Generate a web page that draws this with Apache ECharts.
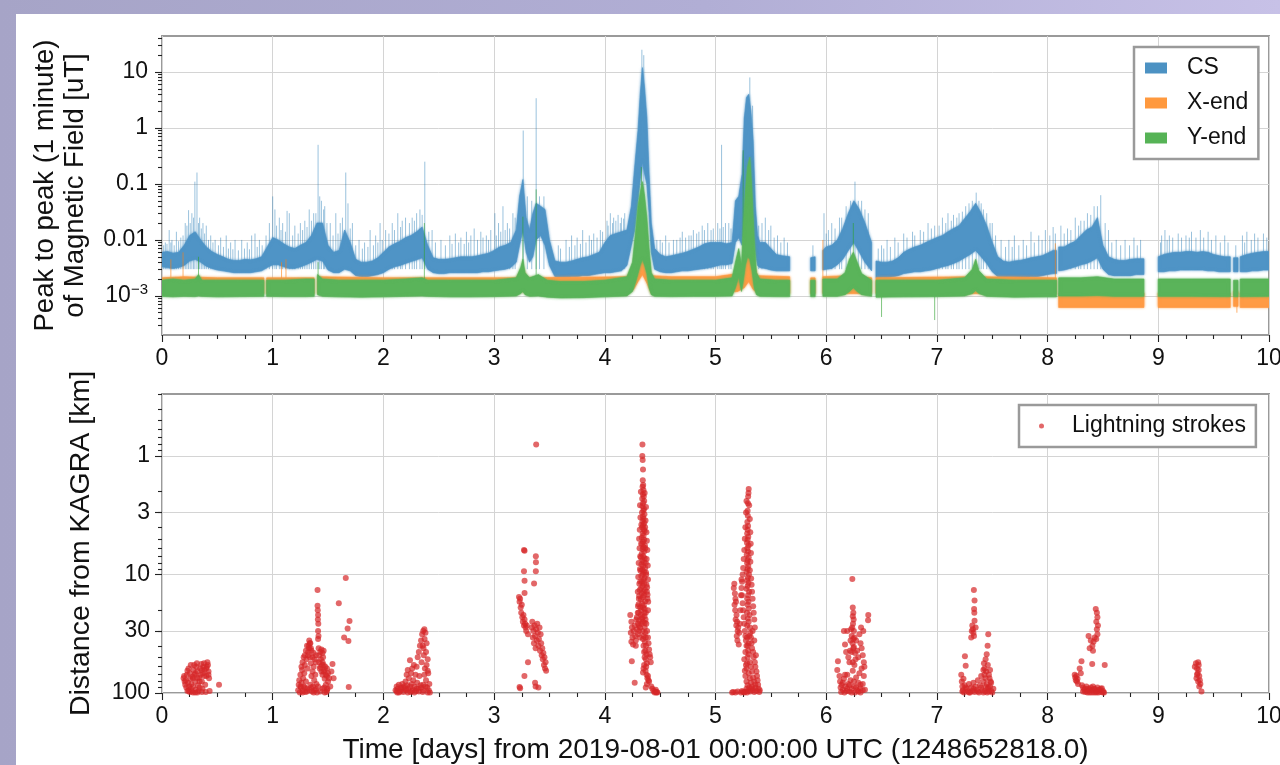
<!DOCTYPE html>
<html><head><meta charset="utf-8">
<script src="https://cdn.jsdelivr.net/npm/echarts@6/dist/echarts.min.js"></script>
<style>
html,body{margin:0;padding:0;width:1280px;height:765px;overflow:hidden;}
#bg{position:absolute;left:0;top:0;width:1280px;height:765px;background:linear-gradient(90deg,#a6a4c7 0%,#b1aed5 55%,#c7c1e7 100%);}
#card{position:absolute;left:16px;top:14px;width:1264px;height:751px;background:#fff;}
#chart{position:absolute;left:0;top:0;width:1280px;height:765px;}
</style></head><body>
<div id="bg"></div><div id="card"></div><div id="chart"></div>
<script>
// ---------------- DATA ----------------
const dayTicks = [0,1,2,3,4,5,6,7,8,9,10];
const fieldTickValues = [0.001, 0.01, 0.1, 1, 10];
const fieldTickLabels = ['{b|10}{sup|\u22123}', '0.01', '0.1', '1', '10'];
const distTickValues = [1, 3, 10, 30, 100];
const distTickLabels = ['1', '3', '10', '30', '100'];
const seriesNames = ['CS', 'X-end', 'Y-end'];

// CS band: [day, lower edge, upper edge] in uT; null = data gap
const csBand = [
[0.00,0.0033,0.0060],[0.05,0.0032,0.0062],[0.10,0.0031,0.0058],[0.15,0.0032,0.0060],[0.20,0.0035,0.0080],
[0.25,0.0042,0.0120],[0.30,0.0045,0.0140],[0.35,0.0040,0.0100],[0.40,0.0034,0.0075],[0.45,0.0031,0.0062],
[0.50,0.0029,0.0055],[0.55,0.0028,0.0050],[0.60,0.0027,0.0045],[0.65,0.0026,0.0043],[0.70,0.0026,0.0043],
[0.75,0.0026,0.0045],[0.80,0.0026,0.0044],[0.85,0.0027,0.0046],[0.90,0.0028,0.0050],[0.95,0.0032,0.0075],
[1.00,0.0036,0.0110],[1.05,0.0036,0.0100],[1.10,0.0033,0.0085],[1.15,0.0031,0.0075],[1.20,0.0031,0.0070],
[1.25,0.0033,0.0080],[1.30,0.0036,0.0090],[1.35,0.0040,0.0120],[1.40,0.0045,0.0200],[1.45,0.0042,0.0200],
[1.50,0.0029,0.0080],[1.55,0.0026,0.0060],[1.60,0.0026,0.0065],[1.65,0.0030,0.0150],[1.70,0.0028,0.0090],
[1.75,0.0023,0.0045],[1.80,0.0022,0.0040],[1.85,0.0022,0.0040],[1.90,0.0023,0.0042],[1.95,0.0024,0.0048],
[2.00,0.0026,0.0060],[2.05,0.0030,0.0075],[2.10,0.0033,0.0085],[2.15,0.0035,0.0095],[2.20,0.0038,0.0110],
[2.25,0.0041,0.0120],[2.30,0.0044,0.0140],[2.35,0.0048,0.0170],[2.40,0.0030,0.0080],[2.45,0.0026,0.0048],
[2.50,0.0025,0.0045],[2.55,0.0025,0.0045],[2.60,0.0026,0.0046],[2.65,0.0026,0.0048],[2.70,0.0026,0.0050],
[2.75,0.0026,0.0050],[2.80,0.0026,0.0050],[2.85,0.0026,0.0052],[2.90,0.0027,0.0055],[2.95,0.0027,0.0058],
[3.00,0.0028,0.0065],[3.05,0.0029,0.0075],[3.10,0.0030,0.0080],[3.15,0.0032,0.0090],[3.20,0.0040,0.0150],
[3.23,0.0080,0.0600],[3.26,0.0150,0.1200],[3.29,0.0060,0.0250],[3.32,0.0040,0.0150],[3.35,0.0050,0.0300],
[3.38,0.0100,0.0450],[3.42,0.0120,0.0400],[3.46,0.0080,0.0350],[3.50,0.0035,0.0100],[3.55,0.0022,0.0042],
[3.60,0.0021,0.0040],[3.65,0.0021,0.0040],[3.70,0.0022,0.0042],[3.75,0.0022,0.0045],[3.80,0.0023,0.0048],
[3.85,0.0023,0.0050],[3.90,0.0024,0.0055],[3.95,0.0025,0.0060],[4.00,0.0026,0.0090],[4.05,0.0026,0.0120],
[4.10,0.0027,0.0130],[4.15,0.0028,0.0140],[4.20,0.0035,0.0150],[4.24,0.0080,0.0400],[4.27,0.0150,0.2000],
[4.30,0.0500,0.9000],[4.32,0.1200,4.0000],[4.34,0.2500,12.000],[4.36,0.1500,5.0000],[4.38,0.1000,1.5000],
[4.40,0.0300,0.1500],[4.42,0.0060,0.0200],[4.45,0.0030,0.0070],[4.50,0.0027,0.0055],[4.55,0.0026,0.0050],
[4.60,0.0026,0.0052],[4.65,0.0027,0.0055],[4.70,0.0028,0.0058],[4.75,0.0028,0.0062],[4.80,0.0029,0.0068],
[4.85,0.0030,0.0075],[4.90,0.0031,0.0085],[4.95,0.0032,0.0090],[5.00,0.0034,0.0090],[5.05,0.0036,0.0090],
[5.10,0.0036,0.0085],[5.15,0.0038,0.0090],[5.18,0.0090,0.0500],[5.21,0.0110,0.0600],[5.24,0.0080,0.1500],
[5.26,0.0200,1.5000],[5.28,0.0400,3.5000],[5.30,0.0500,4.0000],[5.32,0.0300,2.0000],[5.34,0.0150,0.6000],
[5.36,0.0060,0.0400],[5.38,0.0035,0.0120],[5.40,0.0032,0.0090],[5.45,0.0031,0.0090],[5.50,0.0029,0.0070],
[5.55,0.0028,0.0055],[5.60,0.0028,0.0052],[5.67,0.0028,0.0050],
null,
[5.86,0.0028,0.0048],[5.90,0.0028,0.0050],
null,
[5.97,0.0029,0.0065],[6.00,0.0030,0.0075],[6.05,0.0031,0.0080],[6.10,0.0036,0.0100],[6.15,0.0045,0.0160],
[6.20,0.0065,0.0300],[6.25,0.0090,0.0500],[6.30,0.0060,0.0350],[6.35,0.0040,0.0200],[6.41,0.0028,0.0090],
null,
[6.45,0.0021,0.0042],[6.50,0.0021,0.0040],[6.55,0.0021,0.0040],[6.60,0.0022,0.0042],[6.65,0.0023,0.0048],
[6.70,0.0025,0.0060],[6.75,0.0026,0.0068],[6.80,0.0027,0.0075],[6.85,0.0027,0.0080],[6.90,0.0028,0.0090],
[6.95,0.0029,0.0100],[7.00,0.0031,0.0110],[7.05,0.0033,0.0120],[7.10,0.0035,0.0140],[7.15,0.0038,0.0160],
[7.20,0.0042,0.0180],[7.25,0.0048,0.0240],[7.30,0.0055,0.0320],[7.35,0.0065,0.0450],[7.40,0.0050,0.0300],
[7.45,0.0038,0.0180],[7.50,0.0027,0.0090],[7.55,0.0022,0.0050],[7.60,0.0021,0.0042],[7.65,0.0021,0.0040],
[7.70,0.0021,0.0042],[7.75,0.0021,0.0043],[7.80,0.0021,0.0045],[7.85,0.0022,0.0048],[7.90,0.0022,0.0050],
[7.95,0.0023,0.0052],[8.00,0.0024,0.0058],[8.05,0.0025,0.0065],[8.08,0.0025,0.0065],
null,
[8.10,0.0028,0.0075],[8.15,0.0029,0.0075],[8.20,0.0031,0.0085],[8.25,0.0033,0.0095],[8.30,0.0036,0.0120],
[8.35,0.0038,0.0150],[8.40,0.0042,0.0170],[8.45,0.0048,0.0250],[8.50,0.0030,0.0080],[8.55,0.0024,0.0050],
[8.60,0.0023,0.0045],[8.65,0.0023,0.0043],[8.70,0.0023,0.0043],[8.75,0.0023,0.0045],[8.80,0.0024,0.0046],
[8.87,0.0024,0.0046],
null,
[9.00,0.0027,0.0050],[9.05,0.0027,0.0055],[9.10,0.0028,0.0058],[9.15,0.0028,0.0060],[9.20,0.0029,0.0060],
[9.25,0.0029,0.0062],[9.30,0.0029,0.0062],[9.35,0.0029,0.0060],[9.40,0.0029,0.0062],[9.45,0.0028,0.0060],
[9.50,0.0028,0.0055],[9.55,0.0027,0.0052],[9.60,0.0027,0.0050],[9.65,0.0027,0.0050],
null,
[9.68,0.0027,0.0048],[9.72,0.0027,0.0048],
null,
[9.74,0.0027,0.0050],[9.80,0.0027,0.0055],[9.85,0.0028,0.0058],[9.90,0.0028,0.0060],[9.95,0.0029,0.0062],
[10.0,0.0029,0.0062]
];

// CS spikes above the dense band: [day, peak uT]
const csSpikes = [
[0.015,0.008],[0.03,0.009],[0.045,0.0085],[0.065,0.015],[0.08,0.009],[0.09,0.01],[0.11,0.008],[0.13,0.014],
[0.15,0.0095],[0.17,0.011],[0.19,0.012],[0.21,0.02],[0.225,0.018],[0.24,0.034],[0.255,0.02],[0.27,0.03],
[0.285,0.025],[0.297,0.11],[0.316,0.16],[0.33,0.02],[0.34,0.025],[0.355,0.016],[0.37,0.02],[0.385,0.013],
[0.40,0.018],[0.42,0.01],[0.44,0.012],[0.46,0.009],[0.48,0.01],[0.51,0.008],[0.53,0.011],[0.555,0.0075],
[0.58,0.012],[0.60,0.007],[0.62,0.009],[0.64,0.0068],[0.66,0.01],[0.69,0.0065],[0.72,0.01],[0.745,0.007],
[0.77,0.009],[0.79,0.0068],[0.81,0.012],[0.84,0.013],[0.86,0.0075],[0.88,0.01],[0.905,0.008],[0.94,0.012],
[0.97,0.02],[1.0,0.06],[1.02,0.035],[1.035,0.018],[1.06,0.025],[1.075,0.015],[1.09,0.02],[1.115,0.014],
[1.13,0.033],[1.15,0.03],[1.18,0.012],[1.2,0.018],[1.23,0.013],[1.25,0.02],[1.27,0.015],[1.29,0.022],
[1.31,0.017],[1.33,0.035],[1.35,0.022],[1.37,0.03],[1.39,0.03],[1.41,0.5],[1.425,0.06],[1.44,0.05],
[1.46,0.035],[1.47,0.04],[1.49,0.02],[1.52,0.02],[1.545,0.012],[1.57,0.03],[1.59,0.013],[1.61,0.02],
[1.63,0.025],[1.66,0.16],[1.68,0.045],[1.70,0.016],[1.72,0.02],[1.75,0.008],[1.78,0.01],[1.81,0.007],
[1.83,0.009],[1.86,0.0075],[1.88,0.015],[1.91,0.008],[1.93,0.012],[1.95,0.009],[1.97,0.02],[1.99,0.01],
[2.02,0.015],[2.05,0.013],[2.08,0.02],[2.10,0.015],[2.13,0.03],[2.155,0.017],[2.17,0.022],[2.2,0.025],
[2.235,0.02],[2.26,0.025],[2.28,0.022],[2.3,0.03],[2.33,0.035],[2.35,0.028],[2.374,0.25],[2.41,0.014],
[2.44,0.015],[2.47,0.009],[2.52,0.01],[2.56,0.008],[2.6,0.012],[2.62,0.0085],[2.65,0.013],[2.68,0.009],
[2.7,0.011],[2.73,0.0085],[2.75,0.014],[2.77,0.009],[2.79,0.012],[2.82,0.016],[2.85,0.01],[2.88,0.014],
[2.9,0.011],[2.93,0.012],[2.95,0.01],[2.97,0.015],[3.007,0.03],[3.02,0.012],[3.04,0.02],[3.06,0.014],
[3.08,0.04],[3.1,0.015],[3.12,0.02],[3.14,0.016],[3.17,0.03],[3.19,0.025],[3.263,0.9],[3.3,0.06],
[3.34,0.05],[3.38,3.4],[3.41,0.06],[3.45,0.06],[3.58,0.008],[3.6,0.007],[3.65,0.01],[3.68,0.0075],
[3.7,0.012],[3.73,0.008],[3.75,0.011],[3.78,0.0085],[3.8,0.015],[3.83,0.009],[3.86,0.012],[3.88,0.01],
[3.9,0.013],[3.93,0.011],[3.96,0.015],[3.98,0.014],[4.02,0.022],[4.03,0.018],[4.05,0.03],[4.07,0.02],
[4.08,0.025],[4.1,0.022],[4.12,0.028],[4.14,0.02],[4.15,0.025],[4.17,0.024],[4.18,0.03],[4.335,25],
[4.352,20],[4.47,0.01],[4.5,0.01],[4.52,0.009],[4.55,0.012],[4.58,0.009],[4.62,0.01],[4.65,0.01],
[4.68,0.011],[4.7,0.014],[4.73,0.011],[4.76,0.012],[4.78,0.012],[4.8,0.015],[4.83,0.013],[4.85,0.014],
[4.88,0.018],[4.9,0.015],[4.93,0.02],[4.96,0.015],[4.98,0.016],[5.02,0.02],[5.04,0.016],[5.055,0.5],
[5.07,0.017],[5.09,0.02],[5.12,0.02],[5.14,0.016],[5.262,1.6],[5.31,8],[5.335,2.5],[5.39,0.018],
[5.42,0.02],[5.45,0.025],[5.48,0.015],[5.5,0.018],[5.53,0.011],[5.56,0.012],[5.59,0.009],[5.62,0.011],
[5.65,0.009],[5.88,0.008],[5.98,0.03],[6.0,0.013],[6.02,0.015],[6.05,0.02],[6.08,0.016],[6.12,0.025],
[6.14,0.025],[6.18,0.04],[6.22,0.05],[6.26,0.11],[6.29,0.05],[6.32,0.05],[6.35,0.035],[6.38,0.03],
[6.47,0.007],[6.5,0.008],[6.52,0.007],[6.55,0.01],[6.58,0.0075],[6.62,0.011],[6.65,0.009],[6.7,0.013],
[6.73,0.011],[6.78,0.014],[6.8,0.012],[6.85,0.015],[6.88,0.014],[6.92,0.02],[6.95,0.016],[6.98,0.018],
[7.02,0.018],[7.05,0.025],[7.08,0.02],[7.1,0.03],[7.13,0.022],[7.15,0.028],[7.18,0.025],[7.2,0.03],
[7.23,0.032],[7.26,0.04],[7.29,0.045],[7.32,0.05],[7.355,0.07],[7.38,0.05],[7.4,0.045],[7.42,0.035],
[7.45,0.03],[7.48,0.02],[7.5,0.02],[7.53,0.012],[7.58,0.01],[7.62,0.0075],[7.65,0.01],[7.68,0.0075],
[7.7,0.012],[7.74,0.008],[7.78,0.01],[7.81,0.008],[7.85,0.014],[7.88,0.009],[7.92,0.012],[7.95,0.01],
[7.98,0.015],[8.02,0.012],[8.05,0.017],[8.07,0.013],[8.12,0.018],[8.15,0.013],[8.18,0.016],[8.21,0.015],
[8.25,0.025],[8.28,0.018],[8.3,0.022],[8.33,0.022],[8.36,0.03],[8.39,0.028],[8.42,0.04],[8.45,0.04],
[8.48,0.063],[8.52,0.02],[8.55,0.015],[8.58,0.009],[8.62,0.01],[8.66,0.008],[8.7,0.01],[8.74,0.008],
[8.78,0.011],[8.81,0.008],[8.84,0.01],[9.02,0.009],[9.03,0.012],[9.06,0.015],[9.08,0.01],[9.1,0.012],
[9.13,0.011],[9.18,0.013],[9.21,0.011],[9.25,0.012],[9.28,0.011],[9.3,0.014],[9.34,0.011],[9.38,0.015],
[9.41,0.011],[9.45,0.014],[9.48,0.01],[9.52,0.012],[9.56,0.009],[9.6,0.012],[9.63,0.009],[9.7,0.008],
[9.76,0.012],[9.78,0.009],[9.8,0.014],[9.84,0.01],[9.87,0.013],[9.9,0.011],[9.95,0.013],[9.98,0.011]
];

// X-end band: [day, lower, upper]
const xendBand = [
[0.00,0.0011,0.0021],[0.20,0.0011,0.0022],[0.50,0.0011,0.0021],[0.92,0.0011,0.0021],
null,
[0.945,0.0011,0.0021],[1.375,0.0011,0.0021],
null,
[1.405,0.0011,0.0022],[2.00,0.0011,0.0021],[3.20,0.0011,0.0021],[3.26,0.0012,0.0030],[3.30,0.0011,0.0021],
[4.20,0.0011,0.0022],[4.26,0.0013,0.0032],[4.30,0.0018,0.0070],[4.34,0.0024,0.0150],[4.38,0.0017,0.0050],
[4.42,0.0011,0.0023],[4.60,0.0011,0.0022],[5.00,0.0011,0.0022],[5.20,0.0012,0.0025],[5.26,0.0014,0.0045],
[5.30,0.0018,0.0100],[5.34,0.0013,0.0040],[5.38,0.0011,0.0023],[5.67,0.0011,0.0022],
null,
[5.86,0.0011,0.0021],[5.90,0.0011,0.0021],
null,
[5.97,0.0011,0.0022],[6.20,0.0011,0.0023],[6.41,0.0011,0.0021],
null,
[6.45,0.0011,0.0021],[7.30,0.0011,0.0022],[7.40,0.0011,0.0022],[8.08,0.0011,0.0021],
null,
[8.10,0.00062,0.00112],[8.87,0.00062,0.00112],
null,
[9.00,0.00062,0.00112],[9.65,0.00062,0.00112],
null,
[9.68,0.00065,0.0012],[9.72,0.00065,0.0012],
null,
[9.74,0.00062,0.00112],[10.0,0.00062,0.00112]
];
// X-end spikes: [day, from, to]
const xendSpikes = [
[0.08,0.0019,0.0045],[0.19,0.0019,0.006],[1.08,0.0019,0.004],[1.12,0.0019,0.0045],[4.34,0.01,0.026],
[5.97,0.0019,0.01],[8.07,0.0019,0.0087],[9.71,0.0008,0.0005]
];

// Y-end band: [day, lower, upper]
const yendBand = [
[0.00,0.00098,0.0019],[0.10,0.00096,0.0020],[0.20,0.00098,0.0019],[0.30,0.00097,0.0020],[0.33,0.00100,0.0024],
[0.36,0.00098,0.0019],[0.50,0.00096,0.0019],[0.70,0.00097,0.0019],[0.92,0.00098,0.0019],
null,
[0.945,0.00098,0.0019],[1.10,0.00097,0.0019],[1.30,0.00097,0.0020],[1.375,0.00098,0.0020],
null,
[1.405,0.00105,0.0024],[1.45,0.00098,0.0020],[1.60,0.00096,0.0019],[1.80,0.00095,0.0019],[2.00,0.00096,0.0019],
[2.20,0.00098,0.0020],[2.35,0.00100,0.0021],[2.40,0.00098,0.0019],[2.60,0.00096,0.0019],[2.80,0.00096,0.0019],
[3.00,0.00097,0.0019],[3.20,0.00100,0.0021],[3.24,0.00110,0.0032],[3.26,0.00120,0.0045],[3.28,0.00105,0.0026],
[3.32,0.00098,0.0021],[3.40,0.00100,0.0024],[3.48,0.00095,0.0019],[3.60,0.00092,0.0018],[3.80,0.00093,0.0018],
[4.00,0.00096,0.0019],[4.20,0.00100,0.0022],[4.25,0.00120,0.0040],[4.28,0.0018,0.015],[4.30,0.0025,0.04],
[4.32,0.0035,0.07],[4.34,0.0045,0.11],[4.36,0.0035,0.06],[4.38,0.0025,0.025],[4.40,0.0014,0.007],
[4.42,0.00105,0.0026],[4.45,0.00098,0.0020],[4.60,0.00097,0.0019],[4.80,0.00098,0.0019],[5.00,0.00098,0.0019],
[5.15,0.00100,0.0021],[5.18,0.0014,0.0040],[5.21,0.0022,0.0070],[5.235,0.0012,0.0035],[5.25,0.0018,0.015],
[5.27,0.0035,0.07],[5.29,0.0050,0.20],[5.31,0.0045,0.30],[5.33,0.0028,0.07],[5.35,0.0014,0.010],
[5.37,0.00105,0.0026],[5.40,0.00098,0.0020],[5.55,0.00097,0.0019],[5.67,0.00097,0.0019],
null,
[5.86,0.00097,0.0019],[5.90,0.00097,0.0019],
null,
[5.97,0.00098,0.0020],[6.10,0.00098,0.0020],[6.17,0.00105,0.0026],[6.21,0.0012,0.0045],[6.245,0.0014,0.0060],
[6.28,0.0012,0.0040],[6.32,0.00105,0.0025],[6.41,0.00098,0.0019],
null,
[6.45,0.00095,0.0019],[6.70,0.00096,0.0019],[7.00,0.00097,0.0019],[7.25,0.00100,0.0021],[7.32,0.00110,0.0030],
[7.35,0.00125,0.0045],[7.38,0.00110,0.0028],[7.45,0.00098,0.0020],[7.70,0.00095,0.0019],[8.00,0.00096,0.0019],
[8.08,0.00096,0.0019],
null,
[8.10,0.00100,0.0021],[8.30,0.00100,0.0021],[8.45,0.00102,0.0022],[8.60,0.00098,0.0020],[8.87,0.00098,0.0020],
null,
[9.00,0.00098,0.0020],[9.30,0.00098,0.0020],[9.65,0.00097,0.0020],
null,
[9.68,0.00097,0.0019],[9.72,0.00097,0.0019],
null,
[9.74,0.00097,0.0020],[10.0,0.00098,0.0020]
];
// Y-end spikes: [day, from, to]
const yendSpikes = [
[0.33,0.0018,0.005],[1.41,0.0018,0.004],[2.37,0.0018,0.02],[3.26,0.0018,0.026],[3.38,0.0018,0.08],
[4.33,0.01,0.2],[5.25,0.003,0.4],[6.245,0.0018,0.02],[6.5,0.001,0.00042],[6.98,0.001,0.00037]
];

// Lightning strokes: [day, distance km]
const lightningStrokes = [
// day 0.2-0.5
[0.195,75],[0.20,72],[0.205,80],[0.21,85],[0.215,78],[0.22,90],[0.225,70],[0.23,65],[0.235,82],[0.24,95],
[0.245,88],[0.25,68],[0.255,76],[0.26,92],[0.265,84],[0.27,97],[0.275,73],[0.28,88],[0.285,64],[0.29,58],
[0.295,70],[0.30,80],[0.305,94],[0.31,60],[0.315,56],[0.32,66],[0.325,86],[0.33,96],[0.335,74],[0.34,90],
[0.345,62],[0.35,70],[0.355,57],[0.36,80],[0.365,92],[0.37,68],[0.375,60],[0.38,56],[0.385,64],[0.39,85],
[0.395,98],[0.40,72],[0.405,60],[0.41,55],[0.415,58],[0.42,66],[0.425,75],[0.43,96],[0.515,85],
[0.25,98],[0.28,99],[0.32,99],[0.36,98],[0.23,96],[0.30,99],
[0.24,62],[0.26,58],[0.28,75],[0.30,68],[0.32,75],[0.34,80],[0.36,64],[0.38,72],[0.40,62],[0.42,70],
// day 1.2-1.7
[1.23,95],[1.235,85],[1.24,78],[1.245,99],[1.25,70],[1.255,90],[1.26,82],[1.265,64],[1.27,96],[1.275,75],
[1.28,88],[1.285,68],[1.29,58],[1.295,98],[1.30,80],[1.305,52],[1.31,92],[1.315,62],[1.32,45],[1.325,40],
[1.33,36],[1.335,50],[1.34,85],[1.345,56],[1.35,72],[1.355,97],[1.36,66],[1.365,88],[1.37,60],[1.375,78],
[1.38,95],[1.385,70],[1.39,55],[1.395,84],[1.40,99],[1.405,13.5],[1.405,18.4],[1.407,20],[1.41,22],[1.408,24],
[1.412,26],[1.41,30],[1.414,33],[1.41,35],[1.415,42],[1.42,48],[1.425,62],[1.43,45],[1.435,52],[1.44,43],
[1.445,58],[1.45,70],[1.455,50],[1.46,66],[1.465,90],[1.47,76],[1.475,60],[1.48,85],[1.485,98],[1.49,72],
[1.495,92],[1.50,80],[1.52,88],[1.53,66],[1.54,57],[1.55,75],[1.597,17.5],[1.645,34],[1.66,10.7],[1.677,28.6],
[1.684,36.4],[1.687,89],[1.694,24.7],[1.33,42],[1.34,38],[1.32,48],[1.35,44],[1.45,46],[1.46,44],
[1.26,60],[1.27,55],[1.28,50],[1.29,48],[1.30,44],[1.31,40],[1.335,38],[1.345,42],[1.36,50],[1.37,46],
[1.38,52],[1.39,48],[1.42,55],[1.43,60],[1.44,66],[1.45,55],[1.46,58],[1.47,64],[1.48,70],[1.49,62],
[1.50,68],[1.51,75],[1.25,88],[1.27,99],[1.29,90],[1.31,97],[1.33,94],[1.35,90],[1.37,99],[1.39,93],
[1.41,88],[1.43,97],[1.45,92],[1.47,99],[1.49,95],
// day 2.1-2.45
[2.11,95],[2.12,88],[2.125,99],[2.13,92],[2.14,85],[2.15,97],[2.16,90],[2.17,84],[2.18,98],[2.19,88],
[2.20,80],[2.205,95],[2.21,70],[2.215,86],[2.22,64],[2.225,92],[2.23,75],[2.24,53],[2.245,98],[2.25,68],
[2.255,84],[2.26,62],[2.265,94],[2.27,78],[2.275,58],[2.28,88],[2.29,70],[2.295,96],[2.30,60],[2.305,82],
[2.31,50],[2.315,92],[2.32,45],[2.325,72],[2.33,40],[2.335,86],[2.34,36],[2.345,55],[2.35,32],[2.355,98],
[2.36,30],[2.362,42],[2.365,48],[2.37,29],[2.372,35],[2.375,62],[2.38,31],[2.385,78],[2.39,38],[2.395,90],
[2.40,52],[2.405,68],[2.41,95],[2.415,84],[2.42,99],
[2.12,96],[2.14,99],[2.16,94],[2.18,90],[2.20,93],[2.22,99],[2.24,88],[2.26,96],[2.28,99],[2.30,92],
[2.32,97],[2.34,90],[2.36,95],[2.38,88],[2.40,99],[2.355,40],[2.385,45],[2.39,58],[2.40,65],[2.37,70],[2.36,85],
// day 3.2-3.5
[3.38,0.8],[3.27,6.2],[3.275,6.3],[3.377,7.0],[3.378,7.9],[3.377,9.4],[3.27,9.4],[3.275,11.3],[3.361,11.9],[3.275,14.3],
[3.225,15.5],[3.23,17],[3.235,16],[3.24,19],[3.245,21],[3.25,18],[3.255,23],[3.26,25],[3.265,22],[3.27,27],
[3.275,24],[3.28,26],[3.285,28],[3.29,30],[3.295,27],[3.306,32],[3.34,28],[3.345,25],[3.35,34],[3.355,30],
[3.36,38],[3.365,27],[3.37,33],[3.375,42],[3.38,29],[3.385,36],[3.39,26],[3.395,31],[3.40,40],[3.405,35],
[3.41,28],[3.415,44],[3.42,32],[3.425,38],[3.43,48],[3.435,42],[3.44,52],[3.445,46],[3.45,58],[3.455,50],
[3.46,62],[3.465,55],[3.47,65],[3.306,55],[3.274,72],[3.235,91],[3.23,89],[3.37,82],[3.375,88],[3.40,90],
// day 4.2-4.5
[4.34,0.8],[4.339,1.0],[4.342,1.08],[4.345,1.3],[4.343,1.6],[4.347,1.76],[4.341,1.82],[4.349,1.94],
[4.344,2.1],[4.352,2.2],[4.338,2.3],[4.356,2.4],[4.346,2.5],[4.34,2.65],[4.354,2.8],[4.348,2.9],[4.336,3.0],[4.358,3.1],
[4.344,3.25],[4.35,3.4],[4.34,3.55],[4.356,3.7],[4.346,3.85],[4.338,4.0],[4.352,4.15],[4.36,4.3],[4.342,4.5],[4.35,4.7],
[4.334,4.9],[4.356,5.1],[4.346,5.3],[4.338,5.5],[4.362,5.7],[4.35,5.9],[4.342,6.1],[4.356,6.4],[4.334,6.7],[4.348,7.0],
[4.36,7.3],[4.34,7.6],[4.352,7.9],[4.332,8.2],[4.346,8.5],[4.364,8.8],[4.338,9.1],[4.354,9.5],[4.344,9.9],[4.33,10.3],
[4.36,10.7],[4.35,11.1],[4.336,11.5],[4.356,12],[4.342,12.5],[4.328,13],[4.362,13.5],[4.35,14],[4.334,14.5],[4.356,15],
[4.344,15.6],[4.326,16.2],[4.366,16.8],[4.338,17.5],[4.352,18.2],
[4.32,19],[4.33,20],[4.36,19.5],[4.37,21],[4.325,22],[4.335,23.5],[4.358,22.5],[4.368,24],[4.345,25],[4.31,24.5],[4.375,26],
[4.23,22],[4.24,25],[4.245,28],[4.235,31],[4.25,34],[4.24,37],[4.255,39],[4.26,30],[4.27,27],[4.275,33],
[4.28,36],[4.285,24],[4.29,29],[4.30,32],[4.305,21],[4.31,27],[4.244,54],[4.27,82],
[4.36,28],[4.365,31],[4.37,34],[4.362,37],[4.372,40],[4.366,44],[4.376,47],[4.37,52],[4.38,56],[4.374,60],
[4.368,65],[4.378,70],[4.385,75],[4.36,50],[4.355,58],[4.35,62],[4.345,67],[4.355,45],[4.35,40],[4.345,35],
[4.34,30],[4.35,33],
[4.39,72],[4.395,78],[4.40,80],[4.41,50],[4.415,55],[4.42,88],[4.43,92],[4.44,96],[4.45,99],[4.455,97],
[4.46,94],[4.465,99],[4.47,98],[4.475,99],[4.38,84],[4.37,90],
[4.318,2.6],[4.372,2.7],[4.322,3.3],[4.368,3.5],[4.316,4.2],[4.376,4.4],[4.31,5.0],[4.38,5.2],[4.314,6.0],[4.384,6.2],
[4.32,7.0],[4.378,7.4],[4.306,8.0],[4.388,8.4],[4.318,9.0],[4.372,9.6],[4.302,10.5],[4.39,11],[4.312,12],[4.382,12.8],
[4.298,14],[4.386,14.8],[4.308,16],[4.392,17],[4.30,18.5],[4.39,20],[4.326,2.0],[4.36,2.05],[4.33,3.8],[4.364,4.0],
[4.328,5.5],[4.366,6.0],[4.325,7.2],[4.37,8.0],[4.322,9.3],[4.374,10],[4.32,11.5],[4.376,12.2],[4.315,13.5],[4.38,14],
[4.31,15.2],[4.385,16],[4.305,17.8],[4.345,19],[4.355,21],[4.34,23],[4.33,26],[4.36,25.5],[4.318,28],[4.382,30],
[4.39,34],[4.395,38],[4.40,43],[4.405,47],[4.298,21],[4.29,23],[4.30,26],[4.31,30],[4.32,34],[4.28,40],
// day 5.15-5.4
[5.30,1.9],[5.298,2.05],[5.295,2.2],[5.293,2.5],[5.29,2.9],[5.292,3.2],[5.288,3.6],[5.294,3.9],[5.29,4.2],[5.286,4.5],
[5.296,4.8],[5.29,5.1],[5.284,5.4],[5.298,5.7],[5.288,6.0],[5.294,6.4],[5.282,6.8],[5.30,7.2],[5.29,7.6],[5.285,8.0],
[5.296,8.5],[5.29,9.0],[5.28,9.5],[5.302,10],[5.292,10.6],[5.286,11.2],[5.298,11.8],[5.29,12.5],[5.28,13.2],[5.304,14],
[5.294,15],[5.286,16],[5.298,17],[5.29,18],[5.30,19.5],[5.284,21],[5.308,22],[5.292,23.5],[5.30,25],[5.286,27],
[5.165,13],[5.17,12],[5.175,14.5],[5.18,16],[5.172,18],[5.178,20],[5.185,17],[5.19,22],[5.182,24],[5.188,27],
[5.195,25],[5.20,30],[5.192,33],[5.198,36],[5.205,28],[5.21,39],[5.215,31],[5.22,26],[5.225,20],[5.23,15],[5.235,11],
[5.31,28],[5.315,31],[5.32,34],[5.325,38],[5.33,42],[5.335,30],[5.34,45],[5.345,50],[5.35,36],[5.355,55],
[5.36,60],[5.365,48],[5.37,66],[5.375,72],[5.38,78],[5.385,85],[5.39,92],[5.395,98],[5.40,95],[5.305,33],
[5.30,38],[5.295,44],[5.29,50],[5.285,56],[5.28,62],[5.30,68],[5.31,75],[5.32,82],[5.33,88],[5.34,95],
[5.35,98],[5.36,90],[5.37,96],[5.29,86],[5.28,92],[5.27,97],[5.26,99],[5.25,98],[5.24,96],[5.23,99],
[5.20,97],[5.18,99],[5.16,98],[5.15,99],
[5.28,2.4],[5.304,2.6],[5.276,3.0],[5.31,3.4],[5.27,4.0],[5.314,4.4],[5.265,5.0],[5.318,5.5],[5.26,6.2],[5.32,6.6],
[5.255,7.4],[5.315,7.8],[5.25,8.8],[5.31,9.2],[5.245,10],[5.322,10.8],[5.24,11.5],[5.326,12.2],[5.235,13],[5.33,14],
[5.24,15],[5.335,16],[5.245,17.5],[5.34,18.5],[5.25,20],[5.345,21],[5.255,23],[5.35,24],[5.26,26],[5.355,28],
[5.265,30],[5.27,33],[5.275,36],[5.28,40],[5.27,45],[5.26,52],[5.275,58],[5.265,65],[5.27,72],[5.28,80],
[5.285,34],[5.29,40],[5.30,47],[5.31,55],[5.32,60],[5.33,66],[5.34,74],[5.35,80],[5.36,85],[5.325,92],
[5.315,97],[5.305,90],[5.295,96],[5.285,99],
// day 6.1-6.4
[6.236,10.9],[6.24,19],[6.245,21],[6.24,22.5],[6.248,24],[6.242,26],[6.235,28],[6.25,30],[6.23,33],[6.245,35],
[6.238,38],[6.25,41],[6.225,29],[6.22,36],[6.215,44],[6.19,30],[6.16,30],[6.17,39],[6.18,45],[6.20,50],
[6.21,55],[6.26,46],[6.265,52],[6.255,58],[6.27,36],[6.28,44],[6.29,50],[6.30,32],[6.31,38],[6.315,28],
[6.32,42],[6.33,48],[6.335,30],[6.34,55],[6.345,60],[6.38,22],[6.378,24.3],[6.106,54],[6.10,64],[6.12,72],
[6.125,80],[6.13,90],[6.135,98],[6.14,85],[6.15,94],[6.16,76],[6.165,99],[6.175,88],[6.185,96],[6.19,70],
[6.20,84],[6.21,97],[6.22,78],[6.23,92],[6.24,65],[6.25,88],[6.26,99],[6.27,74],[6.28,95],[6.29,82],
[6.30,68],[6.305,91],[6.31,99],[6.32,62],[6.33,84],[6.34,72],[6.35,94],
[6.15,82],[6.17,70],[6.19,92],[6.21,86],[6.23,99],[6.25,80],[6.27,90],[6.29,97],[6.31,85],[6.33,95],
[6.245,42],[6.255,34],[6.23,45],[6.24,55],
// day 7.2-7.55
[7.334,13.5],[7.34,16.6],[7.336,19.6],[7.338,21],[7.34,24.6],[7.32,27],[7.325,29],[7.33,31],[7.335,33],[7.315,30],
[7.31,34],[7.35,28],[7.464,32],[7.458,40],[7.45,47],[7.44,52],[7.425,56],[7.43,62],[7.445,66],[7.46,58],
[7.47,70],[7.475,75],[7.48,64],[7.485,80],[7.253,49],[7.26,59],[7.22,70],[7.225,80],[7.23,88],[7.235,95],
[7.24,76],[7.245,99],[7.25,86],[7.27,92],[7.28,97],[7.29,84],[7.30,99],[7.31,90],[7.32,96],[7.33,82],
[7.34,98],[7.35,88],[7.36,94],[7.37,78],[7.38,99],[7.39,86],[7.40,72],[7.41,95],[7.42,80],[7.435,97],
[7.44,88],[7.455,99],[7.465,90],[7.49,96],[7.50,99],[7.51,92],
[7.42,64],[7.43,70],[7.44,75],[7.45,84],[7.46,92],[7.47,97],[7.48,88],[7.49,82],[7.23,97],[7.26,90],
[7.29,99],[7.33,92],[7.37,97],[7.40,90],[7.42,99],
// day 8.25-8.52
[8.435,19.6],[8.445,21],[8.45,23],[8.44,25],[8.455,27],[8.445,29],[8.45,32],[8.44,35],[8.425,34],[8.415,37],
[8.405,40],[8.41,44],[8.39,36],[8.38,42],[8.37,33],[8.306,54],[8.403,57],[8.516,58],[8.29,62],[8.30,68],
[8.245,70],[8.25,74],[8.255,78],[8.26,72],[8.265,80],[8.27,76],[8.275,84],[8.31,86],[8.32,90],[8.33,94],
[8.34,98],[8.35,88],[8.36,96],[8.37,92],[8.38,99],[8.39,90],[8.40,95],[8.41,88],[8.42,99],[8.43,93],
[8.44,97],[8.45,90],[8.46,99],[8.47,94],[8.48,98],[8.49,91],[8.50,96],[8.51,99],
[8.32,97],[8.34,92],[8.36,99],[8.38,94],[8.40,99],[8.42,92],[8.44,99],[8.46,95],[8.48,92],[8.50,99],
// day 9.3-9.4
[9.33,60],[9.34,56],[9.35,62],[9.36,55],[9.355,68],[9.365,64],[9.37,72],[9.345,75],[9.36,80],[9.375,78],
[9.38,84],[9.37,88],[9.39,97],[9.35,70],[9.365,58]
];

// ---------------- CHART ----------------
const FONT = 'Liberation Sans, Arial, Helvetica, sans-serif';
const COLORS = { cs: '#4f94c6', x: '#ff9b45', y: '#5ab45a' };
const SPIKE_COLORS = { cs: 'rgba(31,119,180,0.45)', x: 'rgba(255,127,14,0.6)', y: 'rgba(44,160,44,0.6)' };
const LEGEND_COLORS = ['#4c92c3', '#ff993e', '#56b356'];
const CS_SPIKE_BASE = 0.003;

function bandData(rows) {
  const out = []; let seg = 0;
  rows.forEach(r => { if (r === null) seg++; else out.push([r[0], r[1], r[2], seg]); });
  return out;
}
function bandSeries(name, rows, color) {
  return {
    type: 'custom', name: name, xAxisIndex: 0, yAxisIndex: 0, clip: true, silent: true,
    data: bandData(rows), encode: { x: 0, y: [1, 2] },
    renderItem: function (params, api) {
      const i = params.dataIndexInside;
      const seg = api.value(3, i);
      if (i > 0 && api.value(3, i - 1) === seg) return null;
      const top = [], bot = [];
      for (let j = i; j < params.dataInsideLength && api.value(3, j) === seg; j++) {
        top.push(api.coord([api.value(0, j), api.value(2, j)]));
        bot.push(api.coord([api.value(0, j), api.value(1, j)]));
      }
      return { type: 'polygon', shape: { points: top.concat(bot.reverse()) },
               style: { fill: color, stroke: color, lineWidth: 0.6, shadowBlur: 2.5, shadowColor: color } };
    }
  };
}
function spikeSeries(name, rows, color, width) {
  return {
    type: 'custom', name: name, xAxisIndex: 0, yAxisIndex: 0, clip: true, silent: true,
    data: rows, encode: { x: 0, y: [1, 2] },
    renderItem: function (params, api) {
      const a = api.coord([api.value(0), api.value(1)]);
      const b = api.coord([api.value(0), api.value(2)]);
      return { type: 'line', shape: { x1: a[0], y1: a[1], x2: b[0], y2: b[1] },
               style: { stroke: color, lineWidth: width } };
    }
  };
}
function minorLogTicks(lo, hi) {
  const v = [];
  for (let e = Math.floor(Math.log10(lo)); e <= Math.ceil(Math.log10(hi)); e++) {
    for (let m = 2; m <= 9; m++) { const t = m * Math.pow(10, e); if (t > lo && t < hi) v.push(+t.toPrecision(3)); }
  }
  return v;
}

const tickStyle = { color: '#222', width: 1.1 };
const splitStyle = { color: '#d4d4d4', width: 1 };
function xAxisCfg(gridIndex, withName) {
  const c = {
    type: 'value', gridIndex: gridIndex, min: dayTicks[0], max: dayTicks[dayTicks.length - 1], interval: 1,
    axisLine: { show: false, onZero: false },
    axisTick: { show: true, length: 7, lineStyle: tickStyle },
    minorTick: { show: true, splitNumber: 4, length: 4, lineStyle: tickStyle },
    minorSplitLine: { show: false },
    axisLabel: { fontSize: 23, color: '#111', margin: 12, fontFamily: FONT },
    splitLine: { show: true, lineStyle: splitStyle }
  };
  if (withName) {
    c.name = 'Time [days] from 2019-08-01 00:00:00 UTC (1248652818.0)';
    c.nameLocation = 'middle'; c.nameGap = 43;
    c.nameTextStyle = { fontSize: 28, color: '#111', fontFamily: FONT };
  }
  return c;
}

const FIELD_MIN = 0.0002, FIELD_MAX = 44, DIST_MIN = 0.3, DIST_MAX = 100;

const option = {
  animation: false,
  backgroundColor: 'transparent',
  grid: [
    { left: 162, top: 36, width: 1107, height: 299, show: true, borderColor: '#9a9a9a', borderWidth: 2, backgroundColor: 'transparent', outerBoundsMode: 'none', containLabel: false },
    { left: 162, top: 394, width: 1107, height: 299, show: true, borderColor: '#9a9a9a', borderWidth: 2, backgroundColor: 'transparent', outerBoundsMode: 'none', containLabel: false }
  ],
  xAxis: [xAxisCfg(0, false), xAxisCfg(1, true)],
  yAxis: [
    { type: 'log', logBase: 10, gridIndex: 0, min: FIELD_MIN, max: FIELD_MAX,
      axisLine: { show: false, onZero: false },
      axisTick: { show: true, length: 7, lineStyle: tickStyle, customValues: fieldTickValues },
      axisLabel: { customValues: fieldTickValues, fontSize: 23, color: '#111', margin: 14, fontFamily: FONT,
        formatter: function (v) { const k = fieldTickValues.findIndex(t => Math.abs(Math.log10(t) - Math.log10(v)) < 0.01); return k >= 0 ? fieldTickLabels[k] : ''; },
        rich: { b: { fontSize: 23, color: '#111', fontFamily: FONT, lineHeight: 27 },
                sup: { fontSize: 15, color: '#111', fontFamily: FONT, lineHeight: 15, verticalAlign: 'top' } } },
      splitLine: { show: true, lineStyle: splitStyle },
      name: 'Peak to peak (1 minute)\nof Magnetic Field [uT]', nameLocation: 'middle', nameGap: 72, nameRotate: 90,
      nameTextStyle: { fontSize: 27.5, color: '#111', fontFamily: FONT, lineHeight: 30 } },
    { type: 'log', logBase: 10, gridIndex: 0, min: FIELD_MIN, max: FIELD_MAX, position: 'left', offset: 0,
      axisLine: { show: false, onZero: false },
      axisTick: { show: true, length: 4, lineStyle: tickStyle, customValues: minorLogTicks(FIELD_MIN, FIELD_MAX) },
      axisLabel: { show: false }, splitLine: { show: false } },
    { type: 'log', logBase: 10, gridIndex: 1, min: DIST_MIN, max: DIST_MAX, inverse: true,
      axisLine: { show: false, onZero: false },
      axisTick: { show: true, length: 7, lineStyle: tickStyle, customValues: distTickValues },
      axisLabel: { customValues: distTickValues, fontSize: 23, color: '#111', margin: 12, fontFamily: FONT,
        formatter: function (v) { const k = distTickValues.findIndex(t => Math.abs(t - v) / t < 0.01); return k >= 0 ? distTickLabels[k] : ''; } },
      splitLine: { show: true, lineStyle: splitStyle },
      name: 'Distance from KAGRA [km]', nameLocation: 'middle', nameGap: 66, nameRotate: 90,
      nameTextStyle: { fontSize: 28.5, color: '#111', fontFamily: FONT } },
    { type: 'log', logBase: 10, gridIndex: 1, min: DIST_MIN, max: DIST_MAX, inverse: true, position: 'left', offset: 0,
      axisLine: { show: false, onZero: false },
      axisTick: { show: true, length: 4, lineStyle: tickStyle, customValues: minorLogTicks(DIST_MIN, DIST_MAX) },
      axisLabel: { show: false }, splitLine: { show: false } }
  ],
  legend: [
    { data: seriesNames.map((n, i) => ({ name: n, icon: 'rect', itemStyle: { color: LEGEND_COLORS[i] } })),
      orient: 'vertical', left: 1134, top: 47, itemWidth: 22, itemHeight: 11, itemGap: 11,
      padding: [9, 10, 9, 11], borderColor: '#9a9a9a', borderWidth: 2.5, backgroundColor: '#ffffff',
      selectedMode: false,
      textStyle: { fontSize: 23, color: '#111', fontFamily: FONT, lineHeight: 24, padding: [0, 0, 0, 15] } },
    { data: [{ name: 'Lightning strokes', icon: 'circle' }],
      orient: 'vertical', left: 1019, top: 405, itemWidth: 5, itemHeight: 5,
      padding: [9, 10, 9, 20], borderColor: '#9a9a9a', borderWidth: 2.5, backgroundColor: '#ffffff',
      selectedMode: false,
      textStyle: { fontSize: 23, color: '#111', fontFamily: FONT, lineHeight: 24, padding: [0, 0, 0, 23] } }
  ],
  series: [
    spikeSeries('CS spikes', csSpikes.map(s => [s[0], CS_SPIKE_BASE, s[1]]), SPIKE_COLORS.cs, 1),
    bandSeries('CS', csBand, COLORS.cs),
    spikeSeries('X-end spikes', xendSpikes, SPIKE_COLORS.x, 1),
    bandSeries('X-end', xendBand, COLORS.x),
    spikeSeries('Y-end spikes', yendSpikes, SPIKE_COLORS.y, 1),
    bandSeries('Y-end', yendBand, COLORS.y),
    { type: 'scatter', name: 'Lightning strokes', xAxisIndex: 1, yAxisIndex: 2, data: lightningStrokes,
      symbol: 'circle', symbolSize: 6, itemStyle: { color: 'rgba(214,39,40,0.88)' }, silent: true }
  ]
};
const chart = echarts.init(document.getElementById('chart'), null, { renderer: 'canvas' });
chart.setOption(option);
</script></body></html>
